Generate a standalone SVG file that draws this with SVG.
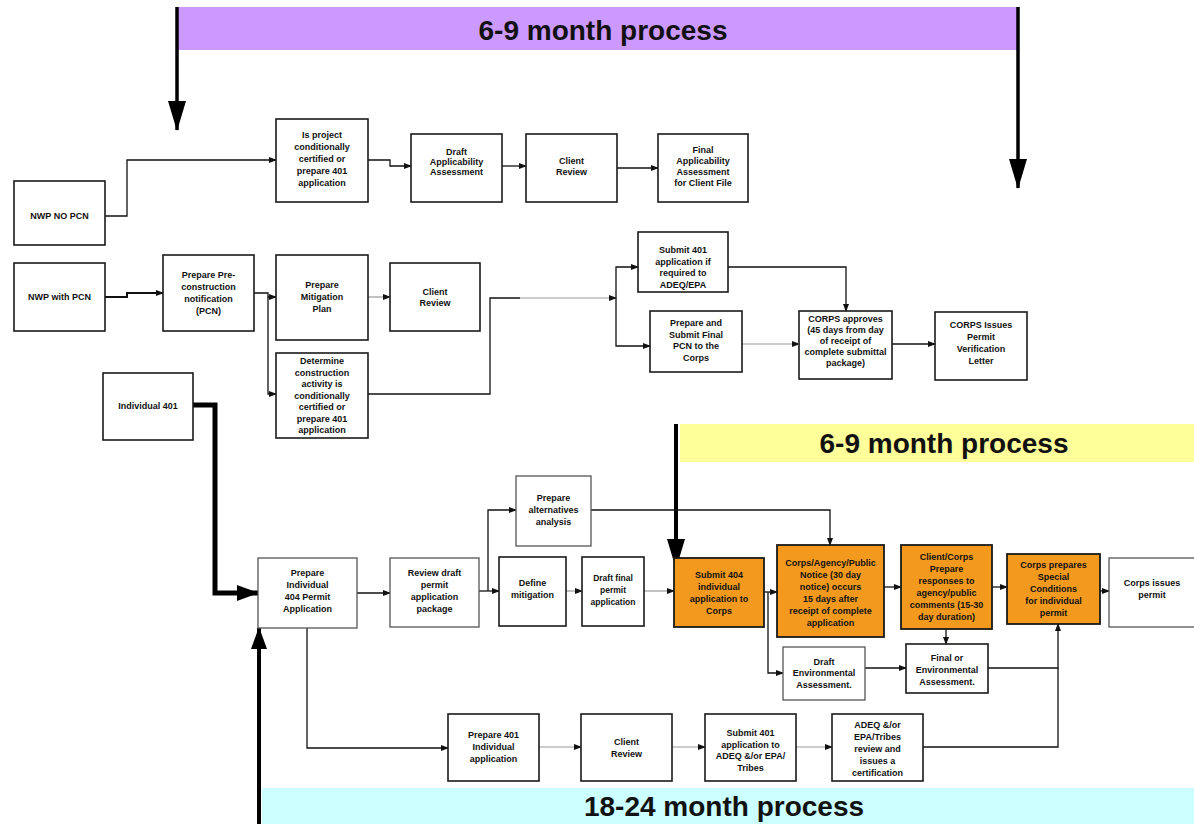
<svg xmlns="http://www.w3.org/2000/svg" width="1194" height="824" viewBox="0 0 1194 824">
<style>
.b{fill:#fff;stroke:#1a1a1a;stroke-width:1.6}
.bg{fill:#fff;stroke:#555;stroke-width:1.3}
.o{fill:#F39A1E;stroke:#1a1a1a;stroke-width:1.8}
.t{font-family:"Liberation Sans",Arial,sans-serif;font-size:9px;font-weight:bold;fill:#111;text-anchor:middle}
.band{font-family:"Liberation Sans",Arial,sans-serif;font-size:28px;font-weight:bold;fill:#111;text-anchor:middle}
.c{fill:none;stroke:#111;stroke-width:1.3}
.cg{fill:none;stroke:#999;stroke-width:1.2}
.k{fill:none;stroke:#000;stroke-width:4}
</style>
<defs>
<marker id="a" markerWidth="8" markerHeight="8" refX="7" refY="4" orient="auto" markerUnits="userSpaceOnUse"><path d="M0,1 L8,4 L0,7 z" fill="#111"/></marker>
<marker id="big" markerWidth="30" markerHeight="22" refX="29" refY="11" orient="auto" markerUnits="userSpaceOnUse"><path d="M0,2 L30,11 L0,20 z" fill="#000"/></marker>
<marker id="mid" markerWidth="22" markerHeight="18" refX="21" refY="9" orient="auto" markerUnits="userSpaceOnUse"><path d="M0,1 L22,9 L0,17 z" fill="#000"/></marker>
</defs>
<rect width="1194" height="824" fill="#fff"/>
<g id="bands">
<rect x="177" y="7" width="841" height="43" fill="#CC99FF"/>
<text class="band" x="603" y="40">6-9 month process</text>
<rect x="680" y="424" width="514" height="38" fill="#FFFF99"/>
<text class="band" x="944" y="453">6-9 month process</text>
<rect x="262" y="788" width="932" height="36" fill="#CCFFFF"/>
<text class="band" x="724" y="816">18-24 month process</text>
</g>
<g id="connectors">
<path class="k" d="M177,7 V130" marker-end="url(#big)" style="stroke-width:3.5"/>
<path class="k" d="M1018,7 V188" marker-end="url(#big)" style="stroke-width:3.5"/>
<path class="k" d="M676,424 V568" marker-end="url(#big)" style="stroke-width:4"/>
<path class="k" d="M193,405 H215 V593 H258" marker-end="url(#mid)" style="stroke-width:5"/>
<path class="k" d="M259,824 V628" marker-end="url(#mid)" style="stroke-width:4"/>
<path class="c" d="M105,216 H127 V160 H276" marker-end="url(#a)"/>
<path class="c" d="M368,160 H390 V166 H411" marker-end="url(#a)"/>
<path class="c" d="M502,166 H526" marker-end="url(#a)"/>
<path class="c" d="M617,168 H658" marker-end="url(#a)"/>
<path class="c" d="M105,297 H127 V293 H163" marker-end="url(#a)" style="stroke-width:2"/>
<path class="c" d="M254,293 H268 V297 H276" marker-end="url(#a)"/>
<path class="c" d="M268,297 V394 H276" marker-end="url(#a)"/>
<path class="cg" d="M368,297 H390" marker-end="url(#a)"/>
<path class="c" d="M368,394 H490 V298 H520"/>
<path class="cg" d="M520,298 H616" marker-end="url(#a)"/>
<path class="c" d="M616,297 V267 H638" marker-end="url(#a)"/>
<path class="c" d="M616,297 V346 H650" marker-end="url(#a)"/>
<path class="c" d="M728,267 H846 V311" marker-end="url(#a)"/>
<path class="cg" d="M742,344 H799" marker-end="url(#a)"/>
<path class="c" d="M892,344 H935" marker-end="url(#a)"/>
<path class="c" d="M357,593 H390" marker-end="url(#a)"/>
<path class="c" d="M479,591 H499" marker-end="url(#a)"/>
<path class="c" d="M488,591 V510 H516" marker-end="url(#a)"/>
<path class="c" d="M591,510 H830 V545" marker-end="url(#a)"/>
<path class="cg" d="M566,591 H582" marker-end="url(#a)"/>
<path class="cg" d="M644,591 H674" marker-end="url(#a)"/>
<path class="c" d="M764,592 H777" marker-end="url(#a)"/>
<path class="c" d="M768,592 V673 H783" marker-end="url(#a)"/>
<path class="c" d="M884,587 H901" marker-end="url(#a)"/>
<path class="c" d="M992,587 H1007" marker-end="url(#a)"/>
<path class="c" d="M1100,591 H1109" marker-end="url(#a)"/>
<path class="c" d="M865,668 H906" marker-end="url(#a)"/>
<path class="c" d="M946,629 V644" marker-end="url(#a)"/>
<path class="c" d="M988,668 H1058 V624" marker-end="url(#a)"/>
<path class="c" d="M923,747 H1058 V668"/>
<path class="c" d="M307,628 V748 H448" marker-end="url(#a)"/>
<path class="cg" d="M539,747 H581" marker-end="url(#a)"/>
<path class="cg" d="M672,747 H705" marker-end="url(#a)"/>
<path class="cg" d="M796,747 H832" marker-end="url(#a)"/>
</g>
<g id="n1"><rect class="b" x="14" y="181" width="91" height="64"/><text class="t" x="59.5" y="219">NWP NO PCN</text></g>
<g id="n2"><rect class="b" x="276" y="119" width="92" height="83"/><text class="t"><tspan x="322" y="138">Is project</tspan><tspan x="322" y="150">conditionally</tspan><tspan x="322" y="162">certified or</tspan><tspan x="322" y="174">prepare 401</tspan><tspan x="322" y="186">application</tspan></text></g>
<g id="n3"><rect class="b" x="411" y="134" width="91" height="68"/><text class="t"><tspan x="456.5" y="155">Draft</tspan><tspan x="456.5" y="165">Applicability</tspan><tspan x="456.5" y="175">Assessment</tspan></text></g>
<g id="n4"><rect class="b" x="526" y="134" width="91" height="68"/><text class="t"><tspan x="571.5" y="164">Client</tspan><tspan x="571.5" y="175">Review</tspan></text></g>
<g id="n5"><rect class="b" x="658" y="134" width="90" height="68"/><text class="t"><tspan x="703" y="153">Final</tspan><tspan x="703" y="164">Applicability</tspan><tspan x="703" y="175">Assessment</tspan><tspan x="703" y="186">for Client File</tspan></text></g>
<g id="n6"><rect class="b" x="14" y="263" width="91" height="68"/><text class="t" x="59.5" y="300">NWP with PCN</text></g>
<g id="n7"><rect class="b" x="163" y="255" width="91" height="76"/><text class="t"><tspan x="208.5" y="278">Prepare Pre-</tspan><tspan x="208.5" y="290">construction</tspan><tspan x="208.5" y="302">notification</tspan><tspan x="208.5" y="314">(PCN)</tspan></text></g>
<g id="n8"><rect class="b" x="276" y="255" width="92" height="85"/><text class="t"><tspan x="322" y="288">Prepare</tspan><tspan x="322" y="300">Mitigation</tspan><tspan x="322" y="312">Plan</tspan></text></g>
<g id="n9"><rect class="b" x="390" y="263" width="90" height="68"/><text class="t"><tspan x="435" y="295">Client</tspan><tspan x="435" y="306">Review</tspan></text></g>
<g id="n10"><rect class="b" x="276" y="353" width="92" height="85"/><text class="t"><tspan x="322" y="364">Determine</tspan><tspan x="322" y="375.5">construction</tspan><tspan x="322" y="387">activity is</tspan><tspan x="322" y="398.5">conditionally</tspan><tspan x="322" y="410">certified or</tspan><tspan x="322" y="421.5">prepare 401</tspan><tspan x="322" y="433">application</tspan></text></g>
<g id="n11"><rect class="b" x="103" y="373" width="90" height="67"/><text class="t" x="148" y="409">Individual 401</text></g>
<g id="n12"><rect class="b" x="638" y="232" width="90" height="60"/><text class="t"><tspan x="683" y="253">Submit 401</tspan><tspan x="683" y="264.5">application if</tspan><tspan x="683" y="276">required to</tspan><tspan x="683" y="287.5">ADEQ/EPA</tspan></text></g>
<g id="n13"><rect class="b" x="650" y="311" width="92" height="61"/><text class="t"><tspan x="696" y="326">Prepare and</tspan><tspan x="696" y="337.5">Submit Final</tspan><tspan x="696" y="349">PCN to the</tspan><tspan x="696" y="360.5">Corps</tspan></text></g>
<g id="n14"><rect class="b" x="799" y="311" width="93" height="68"/><text class="t"><tspan x="845.5" y="322">CORPS approves</tspan><tspan x="845.5" y="333">(45 days from day</tspan><tspan x="845.5" y="344">of receipt of</tspan><tspan x="845.5" y="355">complete submittal</tspan><tspan x="845.5" y="366">package)</tspan></text></g>
<g id="n15"><rect class="b" x="935" y="312" width="92" height="68"/><text class="t"><tspan x="981" y="328">CORPS Issues</tspan><tspan x="981" y="340">Permit</tspan><tspan x="981" y="352">Verification</tspan><tspan x="981" y="364">Letter</tspan></text></g>
<g id="n16"><rect class="bg" x="516" y="476" width="75" height="70"/><text class="t"><tspan x="553.5" y="501">Prepare</tspan><tspan x="553.5" y="513">alternatives</tspan><tspan x="553.5" y="525">analysis</tspan></text></g>
<g id="n17"><rect class="bg" x="258" y="558" width="99" height="70"/><text class="t"><tspan x="307.5" y="576">Prepare</tspan><tspan x="307.5" y="588">Individual</tspan><tspan x="307.5" y="600">404 Permit</tspan><tspan x="307.5" y="612">Application</tspan></text></g>
<g id="n18"><rect class="bg" x="390" y="558" width="89" height="69"/><text class="t"><tspan x="434.5" y="576">Review draft</tspan><tspan x="434.5" y="588">permit</tspan><tspan x="434.5" y="600">application</tspan><tspan x="434.5" y="612">package</tspan></text></g>
<g id="n19"><rect class="b" x="499" y="557" width="67" height="69"/><text class="t"><tspan x="532.5" y="586">Define</tspan><tspan x="532.5" y="598">mitigation</tspan></text></g>
<g id="n20"><rect class="b" x="582" y="557" width="62" height="69"/><text class="t" style="font-size:8.5px"><tspan x="613" y="581">Draft final</tspan><tspan x="613" y="593">permit</tspan><tspan x="613" y="605">application</tspan></text></g>
<g id="n21"><rect class="o" x="674" y="558" width="90" height="69"/><text class="t"><tspan x="719" y="578">Submit 404</tspan><tspan x="719" y="590">individual</tspan><tspan x="719" y="602">application to</tspan><tspan x="719" y="614">Corps</tspan></text></g>
<g id="n22"><rect class="o" x="777" y="545" width="107" height="92"/><text class="t"><tspan x="830.5" y="566">Corps/Agency/Public</tspan><tspan x="830.5" y="578">Notice (30 day</tspan><tspan x="830.5" y="590">notice) occurs</tspan><tspan x="830.5" y="602">15 days after</tspan><tspan x="830.5" y="614">receipt of complete</tspan><tspan x="830.5" y="626">application</tspan></text></g>
<g id="n23"><rect class="o" x="901" y="545" width="91" height="84"/><text class="t"><tspan x="946.5" y="560">Client/Corps</tspan><tspan x="946.5" y="572">Prepare</tspan><tspan x="946.5" y="584">responses to</tspan><tspan x="946.5" y="596">agency/public</tspan><tspan x="946.5" y="608">comments (15-30</tspan><tspan x="946.5" y="620">day duration)</tspan></text></g>
<g id="n24"><rect class="o" x="1007" y="554" width="93" height="70"/><text class="t"><tspan x="1053.5" y="568">Corps prepares</tspan><tspan x="1053.5" y="580">Special</tspan><tspan x="1053.5" y="592">Conditions</tspan><tspan x="1053.5" y="604">for individual</tspan><tspan x="1053.5" y="616">permit</tspan></text></g>
<g id="n25"><rect class="bg" x="1109" y="558" width="100" height="69"/><text class="t"><tspan x="1152" y="586">Corps issues</tspan><tspan x="1152" y="598">permit</tspan></text></g>
<g id="n26"><rect class="bg" x="783" y="647" width="82" height="53"/><text class="t"><tspan x="824" y="665">Draft</tspan><tspan x="824" y="676">Environmental</tspan><tspan x="824" y="688">Assessment.</tspan></text></g>
<g id="n27"><rect class="b" x="906" y="644" width="82" height="49"/><text class="t"><tspan x="947" y="661">Final or</tspan><tspan x="947" y="673">Environmental</tspan><tspan x="947" y="685">Assessment.</tspan></text></g>
<g id="n28"><rect class="b" x="448" y="714" width="91" height="67"/><text class="t"><tspan x="493.5" y="738">Prepare 401</tspan><tspan x="493.5" y="750">Individual</tspan><tspan x="493.5" y="762">application</tspan></text></g>
<g id="n29"><rect class="b" x="581" y="714" width="91" height="67"/><text class="t"><tspan x="626.5" y="745">Client</tspan><tspan x="626.5" y="757">Review</tspan></text></g>
<g id="n30"><rect class="b" x="705" y="714" width="91" height="67"/><text class="t"><tspan x="750.5" y="736">Submit 401</tspan><tspan x="750.5" y="747.5">application to</tspan><tspan x="750.5" y="759">ADEQ &amp;/or EPA/</tspan><tspan x="750.5" y="770.5">Tribes</tspan></text></g>
<g id="n31"><rect class="b" x="832" y="714" width="91" height="67"/><text class="t"><tspan x="877.5" y="728">ADEQ &amp;/or</tspan><tspan x="877.5" y="740">EPA/Tribes</tspan><tspan x="877.5" y="752">review and</tspan><tspan x="877.5" y="764">issues a</tspan><tspan x="877.5" y="776">certification</tspan></text></g>
</svg>
